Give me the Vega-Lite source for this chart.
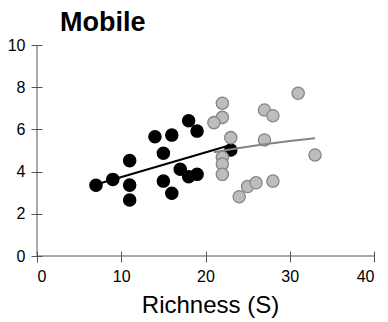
{
  "$schema": "https://vega.github.io/schema/vega-lite/v6.json",
  "width": 337,
  "height": 211,
  "autosize": "none",
  "padding": {"left": 37, "top": 45, "right": 14, "bottom": 66},
  "background": "white",
  "config": {"font": "Liberation Sans", "view": {"stroke": null}},
  "title": {"text": "Mobile", "anchor": "start", "frame": "group", "fontSize": 27, "fontWeight": "bold", "color": "black", "dx": 23, "dy": 25, "baseline": "alphabetic", "offset": 4},
  "datasets": {
    "pts": [
      {"S": 7, "v": 3.35, "grp": "black"},
      {"S": 9, "v": 3.63, "grp": "black"},
      {"S": 11, "v": 4.52, "grp": "black"},
      {"S": 11, "v": 3.36, "grp": "black"},
      {"S": 11, "v": 2.65, "grp": "black"},
      {"S": 14, "v": 5.65, "grp": "black"},
      {"S": 16, "v": 5.73, "grp": "black"},
      {"S": 15, "v": 4.87, "grp": "black"},
      {"S": 15, "v": 3.55, "grp": "black"},
      {"S": 16, "v": 2.97, "grp": "black"},
      {"S": 18, "v": 6.41, "grp": "black"},
      {"S": 19, "v": 5.92, "grp": "black"},
      {"S": 17, "v": 4.11, "grp": "black"},
      {"S": 18, "v": 3.76, "grp": "black"},
      {"S": 19, "v": 3.87, "grp": "black"},
      {"S": 23, "v": 5.02, "grp": "black"},
      {"S": 22, "v": 7.24, "grp": "gray"},
      {"S": 22, "v": 6.57, "grp": "gray"},
      {"S": 21, "v": 6.32, "grp": "gray"},
      {"S": 23, "v": 5.61, "grp": "gray"},
      {"S": 22, "v": 4.68, "grp": "gray"},
      {"S": 22, "v": 4.36, "grp": "gray"},
      {"S": 22, "v": 3.87, "grp": "gray"},
      {"S": 24, "v": 2.81, "grp": "gray"},
      {"S": 25, "v": 3.29, "grp": "gray"},
      {"S": 26, "v": 3.47, "grp": "gray"},
      {"S": 28, "v": 3.55, "grp": "gray"},
      {"S": 27, "v": 5.5, "grp": "gray"},
      {"S": 27, "v": 6.92, "grp": "gray"},
      {"S": 28, "v": 6.65, "grp": "gray"},
      {"S": 31, "v": 7.71, "grp": "gray"},
      {"S": 33, "v": 4.79, "grp": "gray"}
    ],
    "fits": [
      {"S": 7, "v": 3.39, "grp": "black"},
      {"S": 23, "v": 5.26, "grp": "black"},
      {"S": 21, "v": 4.92, "grp": "gray"},
      {"S": 24, "v": 5.12, "grp": "gray"},
      {"S": 27, "v": 5.3, "grp": "gray"},
      {"S": 30, "v": 5.45, "grp": "gray"},
      {"S": 33, "v": 5.58, "grp": "gray"}
    ],
    "one": [{"axisline": "domain"}]
  },
  "layer": [
    {
      "data": {"name": "one"},
      "mark": {"type": "rule", "color": "#555", "strokeWidth": 1},
      "encoding": {
        "x": {"datum": 0, "type": "quantitative", "scale": {"domain": [0, 40], "nice": false},
          "axis": {"orient": "bottom", "values": [0, 10, 20, 30, 40], "grid": false, "domain": false, "offset": -5, "tickColor": "#555", "tickSize": 11, "labelFontSize": 16, "labelColor": "black", "labelPadding": 6, "title": "Richness (S)", "titleX": 173, "titleFontSize": 24, "titleFontWeight": "normal", "titleColor": "black", "titlePadding": 9}},
        "y": {"datum": 0, "type": "quantitative", "scale": {"domain": [0, 10], "nice": false},
          "axis": {"orient": "left", "values": [0, 2, 4, 6, 8, 10], "grid": false, "domain": false, "offset": -5, "tickColor": "#555", "tickSize": 11, "labelFontSize": 16, "labelColor": "black", "labelPadding": 6, "title": null}},
        "y2": {"datum": 10}
      }
    },
    {
      "data": {"name": "one"},
      "mark": {"type": "rule", "color": "#555", "strokeWidth": 1},
      "encoding": {
        "x": {"datum": 0, "type": "quantitative"},
        "x2": {"datum": 40},
        "y": {"datum": 0, "type": "quantitative"}
      }
    },
    {
      "data": {"name": "pts"},
      "mark": {"type": "point", "shape": "circle", "filled": true, "size": 150, "opacity": 1, "strokeWidth": 1.3},
      "encoding": {
        "x": {"field": "S", "type": "quantitative"},
        "y": {"field": "v", "type": "quantitative"},
        "fill": {"field": "grp", "type": "nominal", "scale": {"domain": ["black", "gray"], "range": ["black", "#bdbdbd"]}, "legend": null},
        "stroke": {"field": "grp", "type": "nominal", "scale": {"domain": ["black", "gray"], "range": ["black", "#858585"]}, "legend": null}
      }
    },
    {
      "data": {"name": "fits"},
      "mark": {"type": "line", "strokeWidth": 2},
      "encoding": {
        "x": {"field": "S", "type": "quantitative"},
        "y": {"field": "v", "type": "quantitative"},
        "detail": {"field": "grp", "type": "nominal"},
        "stroke": {"field": "grp", "type": "nominal", "scale": {"domain": ["black", "gray"], "range": ["black", "#858585"]}, "legend": null}
      }
    }
  ]
}
